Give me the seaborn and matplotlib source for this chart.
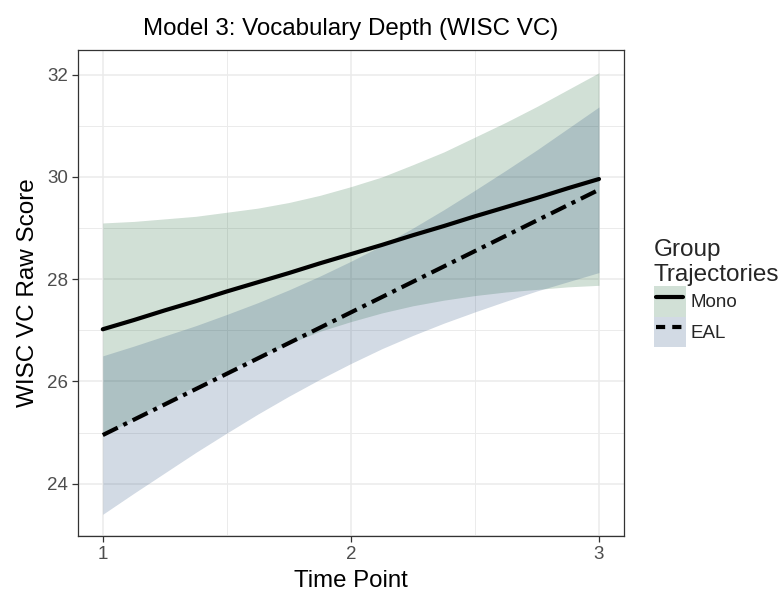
import numpy as np
import pandas as pd
import matplotlib
matplotlib.use("Agg")
import matplotlib.pyplot as plt
import seaborn as sns
from matplotlib.patches import Patch
from matplotlib.lines import Line2D
from matplotlib.legend_handler import HandlerTuple, HandlerLine2D

# ---- data ----
time_points = [1.0, 1.125, 1.25, 1.375, 1.5, 1.625, 1.75, 1.875, 2.0,
               2.125, 2.25, 2.375, 2.5, 2.625, 2.75, 2.875, 3.0]
mono_fit = [27.02, 27.20, 27.39, 27.57, 27.76, 27.94, 28.12, 28.31, 28.49,
            28.67, 28.86, 29.04, 29.23, 29.41, 29.59, 29.78, 29.96]
mono_upper = [29.10, 29.13, 29.18, 29.23, 29.31, 29.39, 29.50, 29.64, 29.81,
              30.00, 30.24, 30.49, 30.78, 31.07, 31.38, 31.71, 32.04]
mono_lower = [24.94, 25.27, 25.60, 25.91, 26.21, 26.49, 26.74, 26.98, 27.17,
              27.34, 27.48, 27.59, 27.68, 27.75, 27.80, 27.85, 27.88]
eal_fit = [24.95, 25.25, 25.55, 25.85, 26.15, 26.45, 26.75, 27.05, 27.35,
           27.65, 27.95, 28.25, 28.55, 28.85, 29.15, 29.45, 29.75]
eal_upper = [26.50, 26.69, 26.89, 27.09, 27.31, 27.54, 27.79, 28.06, 28.35,
             28.66, 29.00, 29.36, 29.74, 30.13, 30.53, 30.95, 31.37]
eal_lower = [23.40, 23.81, 24.21, 24.61, 24.99, 25.36, 25.71, 26.04, 26.35,
             26.64, 26.90, 27.14, 27.36, 27.57, 27.77, 27.95, 28.13]
groups = ["Mono", "EAL"]
x_ticks = [1, 2, 3]
y_ticks = [24, 26, 28, 30, 32]

n = len(time_points)
df = pd.DataFrame({
    "time": time_points * 2,
    "score": mono_fit + eal_fit,
    "lower": mono_lower + eal_lower,
    "upper": mono_upper + eal_upper,
    "group": ["Mono"] * n + ["EAL"] * n,
})

fills = {"Mono": (25/255, 100/255, 50/255), "EAL": (30/255, 70/255, 120/255)}
alpha = 0.2
dashes = {"Mono": "", "EAL": (4, 1.5, 1, 1.5)}

sns.set_theme(style="white")
plt.rcParams["font.family"] = ["Liberation Sans", "DejaVu Sans"]

fig = plt.figure(figsize=(7.82, 5.92), dpi=100)
ax = fig.add_axes([0.0997, 0.0946, 0.698, 0.821])

for g in groups:
    sub = df[df.group == g]
    ax.fill_between(sub["time"], sub["lower"], sub["upper"], color=fills[g],
                    alpha=alpha, linewidth=0, zorder=2)

sns.lineplot(data=df, x="time", y="score", style="group", style_order=groups,
             dashes=dashes, color="black", linewidth=3, ax=ax, legend=False,
             zorder=3, estimator=None, sort=True)

ax.set_xlim(0.9, 3.1)
ax.set_ylim(22.975, 32.485)
ax.set_xticks(x_ticks)
ax.set_xticklabels([str(t) for t in x_ticks])
ax.set_yticks(y_ticks)
ax.set_yticklabels([str(t) for t in y_ticks])
ax.set_xticks([1.5, 2.5], minor=True)
ax.set_yticks([23, 25, 27, 29, 31], minor=True)
ax.grid(True, which="major", color="#ebebeb", linewidth=1.1, zorder=0)
ax.grid(True, which="minor", color="#ebebeb", linewidth=0.7, zorder=0)
ax.set_axisbelow(True)
for s in ax.spines.values():
    s.set_color("#333333")
    s.set_linewidth(0.9)
    s.set_visible(True)
ax.tick_params(axis="both", which="major", direction="out", length=4, width=0.9,
               color="#333333", labelsize=13.5, labelcolor="#4d4d4d", pad=3,
               bottom=True, left=True)
ax.tick_params(axis="both", which="minor", length=0)

ax.set_xlabel("Time Point", fontsize=17.3, color="black", labelpad=5)
ax.set_ylabel("WISC VC Raw Score", fontsize=17.5, color="black", labelpad=6)
ax.set_title("Model 3: Vocabulary Depth (WISC VC)", fontsize=17.4, color="black", pad=11)


class ShortLine(HandlerLine2D):
    def create_artists(self, legend, orig_handle, xdescent, ydescent, width,
                       height, fontsize, trans):
        shrink = width * 0.08
        return super().create_artists(legend, orig_handle, xdescent - shrink,
                                      ydescent, width - 2 * shrink, height,
                                      fontsize, trans)


handles = []
for g in groups:
    p = Patch(facecolor=fills[g], alpha=alpha, edgecolor="none")
    ln = Line2D([], [], color="black", linewidth=3,
                linestyle="-" if g == "Mono" else (0, (2.2, 1.7)))
    handles.append((p, ln))
leg = ax.legend(handles, groups, title="Group\nTrajectories",
                handler_map={tuple: HandlerTuple(ndivide=1, pad=0),
                             Line2D: ShortLine()},
                loc="center left", bbox_to_anchor=(1.055, 0.5), frameon=False,
                fontsize=13.5, title_fontsize=17.5, handlelength=1.7, handleheight=2.1,
                handletextpad=0.25, labelspacing=0.0, borderaxespad=0.0,
                borderpad=0.0)
leg._legend_box.align = "left"

fig.savefig("out.png", dpi=100)
